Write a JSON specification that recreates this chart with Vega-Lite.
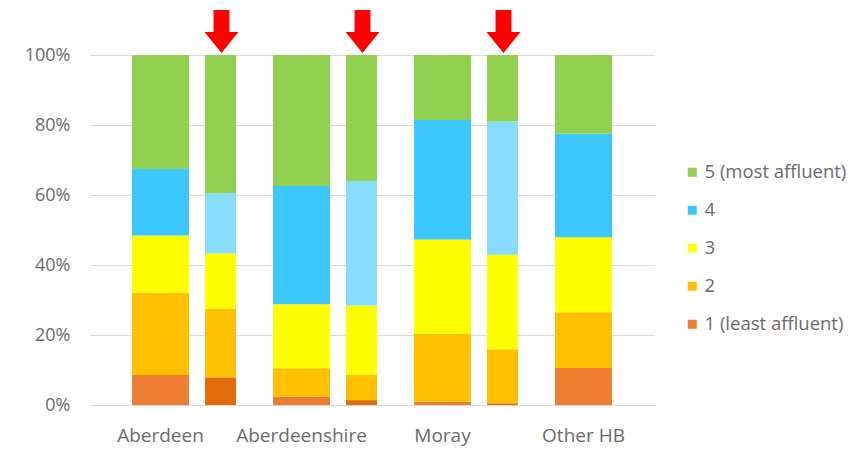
{
  "$schema": "https://vega.github.io/schema/vega-lite/v6.json",
  "width": 564,
  "height": 350,
  "autosize": {"type": "none"},
  "padding": {"left": 90, "top": 55, "right": 203, "bottom": 52},
  "background": "white",
  "config": {
    "font": "Open Sans",
    "view": {"stroke": null},
    "axis": {"labelFont": "Open Sans", "labelColor": "#6b6b6b"},
    "legend": {"labelFont": "Open Sans", "labelColor": "#6b6b6b"}
  },
  "data": {
    "values": [
      {"area": "Aberdeen", "group": "All", "quintile": "1 (least affluent)", "value": 8.6},
      {"area": "Aberdeen", "group": "All", "quintile": "2", "value": 23.5},
      {"area": "Aberdeen", "group": "All", "quintile": "3", "value": 16.3},
      {"area": "Aberdeen", "group": "All", "quintile": "4", "value": 19.0},
      {"area": "Aberdeen", "group": "All", "quintile": "5 (most affluent)", "value": 32.6},
      {"area": "Aberdeen", "group": "Selected", "quintile": "1 (least affluent)", "value": 7.9},
      {"area": "Aberdeen", "group": "Selected", "quintile": "2", "value": 19.6},
      {"area": "Aberdeen", "group": "Selected", "quintile": "3", "value": 15.8},
      {"area": "Aberdeen", "group": "Selected", "quintile": "4", "value": 17.2},
      {"area": "Aberdeen", "group": "Selected", "quintile": "5 (most affluent)", "value": 39.5},
      {"area": "Aberdeenshire", "group": "All", "quintile": "1 (least affluent)", "value": 2.4},
      {"area": "Aberdeenshire", "group": "All", "quintile": "2", "value": 8.1},
      {"area": "Aberdeenshire", "group": "All", "quintile": "3", "value": 18.3},
      {"area": "Aberdeenshire", "group": "All", "quintile": "4", "value": 33.8},
      {"area": "Aberdeenshire", "group": "All", "quintile": "5 (most affluent)", "value": 37.4},
      {"area": "Aberdeenshire", "group": "Selected", "quintile": "1 (least affluent)", "value": 1.4},
      {"area": "Aberdeenshire", "group": "Selected", "quintile": "2", "value": 7.2},
      {"area": "Aberdeenshire", "group": "Selected", "quintile": "3", "value": 19.8},
      {"area": "Aberdeenshire", "group": "Selected", "quintile": "4", "value": 35.6},
      {"area": "Aberdeenshire", "group": "Selected", "quintile": "5 (most affluent)", "value": 36.0},
      {"area": "Moray", "group": "All", "quintile": "1 (least affluent)", "value": 0.9},
      {"area": "Moray", "group": "All", "quintile": "2", "value": 19.4},
      {"area": "Moray", "group": "All", "quintile": "3", "value": 27.0},
      {"area": "Moray", "group": "All", "quintile": "4", "value": 34.1},
      {"area": "Moray", "group": "All", "quintile": "5 (most affluent)", "value": 18.6},
      {"area": "Moray", "group": "Selected", "quintile": "1 (least affluent)", "value": 0.5},
      {"area": "Moray", "group": "Selected", "quintile": "2", "value": 15.4},
      {"area": "Moray", "group": "Selected", "quintile": "3", "value": 27.0},
      {"area": "Moray", "group": "Selected", "quintile": "4", "value": 38.1},
      {"area": "Moray", "group": "Selected", "quintile": "5 (most affluent)", "value": 19.0},
      {"area": "Other HB", "group": "All", "quintile": "1 (least affluent)", "value": 10.6},
      {"area": "Other HB", "group": "All", "quintile": "2", "value": 15.9},
      {"area": "Other HB", "group": "All", "quintile": "3", "value": 21.4},
      {"area": "Other HB", "group": "All", "quintile": "4", "value": 29.6},
      {"area": "Other HB", "group": "All", "quintile": "5 (most affluent)", "value": 22.5}
    ]
  },
  "encoding": {
    "x": {
      "field": "area",
      "type": "nominal",
      "scale": {"domain": ["Aberdeen", "Aberdeenshire", "Moray", "Other HB"], "paddingInner": 0, "paddingOuter": 0},
      "axis": {
        "title": null,
        "domain": false,
        "ticks": false,
        "labelAngle": 0,
        "labelFontSize": 19,
        "labelPadding": 21
      }
    }
  },
  "layer": [
    {
      "transform": [{"filter": "datum.group === 'All'"}],
      "mark": {"type": "bar", "width": 57},
      "encoding": {
        "y": {
          "field": "value",
          "type": "quantitative",
          "stack": "normalize",
          "scale": {"domain": [0, 1]},
          "axis": {
            "title": null,
            "values": [0, 0.2, 0.4, 0.6, 0.8, 1],
            "format": ".0%",
            "domain": false,
            "ticks": false,
            "gridColor": "#d9d9d9",
            "labelFontSize": 18,
            "labelPadding": 20
          }
        },
        "color": {
          "field": "quintile",
          "type": "nominal",
          "scale": {
            "domain": ["5 (most affluent)", "4", "3", "2", "1 (least affluent)"],
            "range": ["#92d050", "#3cc8ff", "#ffff00", "#ffc000", "#ed7d31"]
          },
          "legend": {
            "title": null,
            "orient": "none",
            "legendX": 593,
            "legendY": 108,
            "symbolType": "square",
            "symbolSize": 81,
            "symbolStrokeWidth": 0,
            "labelFontSize": 18.5,
            "rowPadding": 19,
            "symbolOffset": 0,
            "labelOffset": 3,
            "padding": 0
          }
        },
        "order": {"field": "quintile", "sort": "ascending"}
      }
    },
    {
      "transform": [{"filter": "datum.group === 'Selected'"}],
      "mark": {"type": "bar", "width": 31, "xOffset": 60},
      "encoding": {
        "y": {
          "field": "value",
          "type": "quantitative",
          "stack": "normalize",
          "scale": {"domain": [0, 1]}
        },
        "color": {
          "field": "quintile",
          "type": "nominal",
          "scale": {
            "domain": ["5 (most affluent)", "4", "3", "2", "1 (least affluent)"],
            "range": ["#92d050", "#87dcff", "#ffff00", "#ffc000", "#e36c0a"]
          },
          "legend": null
        },
        "order": {"field": "quintile", "sort": "ascending"}
      }
    },
    {
      "transform": [{"filter": "datum.group === 'Selected' && datum.quintile === '5 (most affluent)'"}],
      "mark": {
        "type": "point",
        "shape": "M -0.37 -1 L 0.37 -1 L 0.37 0.02 L 0.79 0.02 L 0 1 L -0.79 0.02 L -0.37 0.02 Z",
        "size": 1849,
        "filled": true,
        "fill": "#ff0000",
        "opacity": 1,
        "strokeWidth": 0,
        "xOffset": 61
      },
      "encoding": {
        "y": {"datum": 1.067, "type": "quantitative", "scale": {"domain": [0, 1]}}
      }
    }
  ],
  "resolve": {"scale": {"color": "independent"}}
}
